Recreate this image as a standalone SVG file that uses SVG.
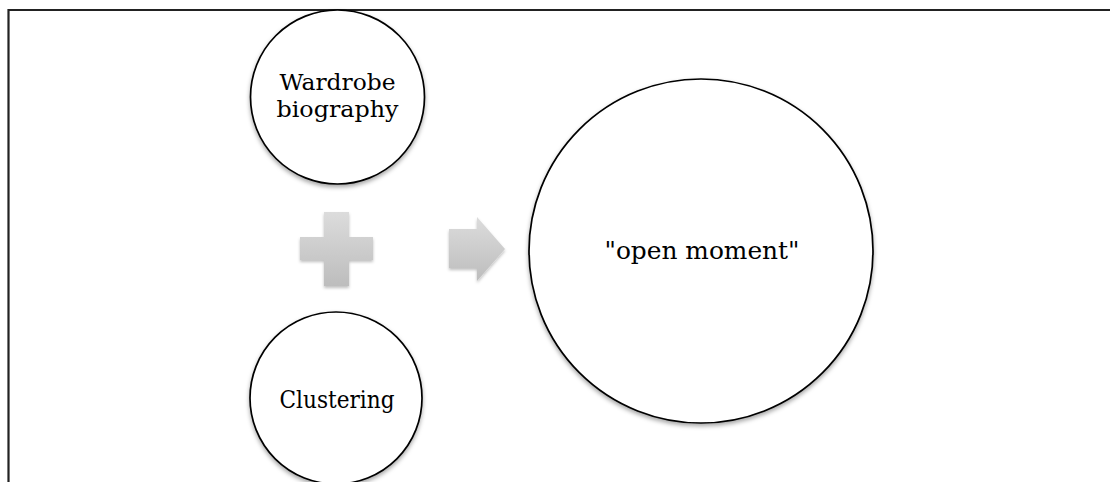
<svg xmlns="http://www.w3.org/2000/svg" width="1110" height="482" viewBox="0 0 1110 482">
  <style>
    .node { fill: #ffffff; stroke: #000000; stroke-width: 1.7; filter: url(#shadow); }
    .label { font-family: "DejaVu Serif", "Liberation Serif", serif; font-size: 24px; fill: #000000; text-anchor: middle; }
    .small { font-size: 23px; }
    .sym { fill: url(#grey); filter: url(#shadowSoft); }
    .frame { stroke: #222222; stroke-width: 2.2; fill: none; }
  </style>
  <defs>
    <filter id="shadow" x="-20%" y="-20%" width="140%" height="140%">
      <feDropShadow dx="0" dy="2.5" stdDeviation="2" flood-color="#000000" flood-opacity="0.35"/>
    </filter>
    <filter id="shadowSoft" x="-20%" y="-20%" width="140%" height="150%">
      <feDropShadow dx="0" dy="2" stdDeviation="1.5" flood-color="#000000" flood-opacity="0.25"/>
    </filter>
    <linearGradient id="grey" x1="0" y1="0" x2="0" y2="1">
      <stop offset="0" stop-color="#dcdcdc"/>
      <stop offset="1" stop-color="#bdbdbd"/>
    </linearGradient>
  </defs>
  <rect width="1110" height="482" fill="#ffffff"/>
  <path class="frame" d="M8.5,482 V10 H1110"/>

  <g id="connectors">
    <path id="plus" class="sym" d="M324,212 H349 V237 H373 V260 H349 V286 H324 V260 H300 V237 H324 Z"/>
    <path id="arrow" class="sym" d="M449,229 H477 V217 L505,249 L477,281 V268 H449 Z"/>
  </g>

  <g id="wardrobe">
    <circle class="node" cx="337.5" cy="97" r="87"/>
    <text class="label small" x="337.5" y="90" textLength="116" lengthAdjust="spacingAndGlyphs">Wardrobe</text>
    <text class="label small" x="337.5" y="117" textLength="122" lengthAdjust="spacingAndGlyphs">biography</text>
  </g>

  <g id="clustering">
    <circle class="node" cx="336" cy="398" r="86"/>
    <text class="label" x="337" y="408" textLength="115" lengthAdjust="spacingAndGlyphs">Clustering</text>
  </g>

  <g id="open-moment">
    <circle class="node" cx="701" cy="251" r="172"/>
    <text class="label" x="702" y="259" textLength="195" lengthAdjust="spacingAndGlyphs">"open moment"</text>
  </g>
</svg>
